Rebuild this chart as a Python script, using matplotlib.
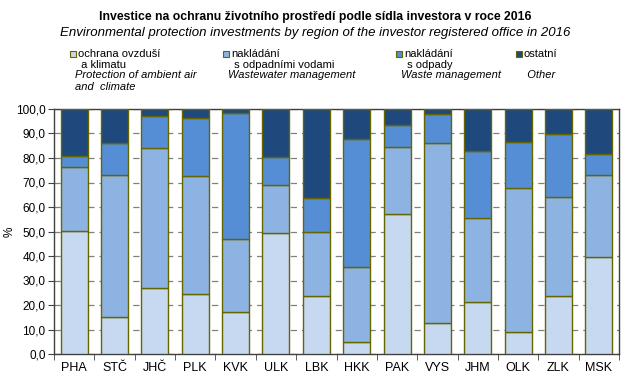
import numpy as np
import matplotlib
matplotlib.use("Agg")
import matplotlib.pyplot as plt
from matplotlib.patches import Rectangle
from matplotlib.ticker import FuncFormatter, FixedLocator

plt.rcParams['font.family'] = ['Liberation Sans', 'DejaVu Sans']

regions = ["PHA", "STČ", "JHČ", "PLK", "KVK", "ULK", "LBK",
           "HKK", "PAK", "VYS", "JHM", "OLK", "ZLK", "MSK"]
air = [50.1, 15.1, 26.9, 24.5, 17.1, 49.3, 23.6, 4.9, 57.1, 12.6, 21.2, 9.0, 23.6, 39.5]
water = [26.1, 57.9, 57.1, 48.1, 29.8, 19.6, 26.1, 30.8, 27.5, 73.4, 34.2, 58.7, 40.4, 33.5]
waste = [4.5, 13.0, 13.3, 23.6, 51.3, 11.4, 13.8, 51.9, 8.7, 11.8, 27.3, 18.7, 25.7, 8.5]
other = [19.3, 14.0, 2.7, 3.8, 1.8, 19.7, 36.5, 12.4, 6.7, 2.2, 17.3, 13.6, 10.3, 18.5]

series = [air, water, waste, other]
colors = ["#C6D9F0", "#8DB3E2", "#558ED5", "#1F497D"]
edge = "#666600"

fig = plt.figure(figsize=(6.3, 3.81), dpi=100)
ax = fig.add_axes([54 / 630, 27 / 381, 565 / 630, 245 / 381])

x = np.arange(len(regions))
bottom = np.zeros(len(regions))
for vals, c in zip(series, colors):
    ax.bar(x, vals, 0.67, bottom=bottom, color=c, edgecolor=edge, linewidth=1.0, zorder=3)
    bottom += np.array(vals)

ax.set_xlim(-0.5, len(regions) - 0.5)
ax.set_ylim(0, 100)
ax.set_yticks(np.arange(0, 101, 10))
ax.yaxis.set_major_formatter(FuncFormatter(lambda v, p: f"{v:.1f}".replace(".", ",")))
ax.yaxis.grid(True, linestyle=(0, (5, 4)), color="#808080", linewidth=0.9, zorder=0)
ax.set_xticks(x)
ax.set_xticklabels(regions)
ax.xaxis.set_minor_locator(FixedLocator(np.arange(-0.5, len(regions), 1)))
ax.tick_params(axis="x", which="major", length=0, pad=6, labelsize=9)
ax.tick_params(axis="x", which="minor", length=4, color="#404040", direction="out")
ax.tick_params(axis="y", length=4, color="#404040", labelsize=8.5, pad=2)
for s in ax.spines.values():
    s.set_color("#404040")
    s.set_linewidth(1.0)
ax.set_ylabel("%", fontsize=8.5)
ax.yaxis.set_label_coords(-38 / 565, 0.5)

fig.text(0.5, 1 - 17 / 381, "Investice na ochranu životního prostředí podle sídla investora v roce 2016",
         ha="center", va="center", fontsize=8.8, fontweight="bold")
fig.text(0.5, 1 - 33 / 381, "Environmental protection investments by region of the investor registered office in 2016",
         ha="center", va="center", fontsize=9.5, style="italic")

leg = [
    (70, ["ochrana ovzduší", " a klimatu"], ["Protection of ambient air", "and  climate"]),
    (223, ["nakládání", " s odpadními vodami"], ["Wastewater management"]),
    (396, ["nakládání", " s odpady"], ["Waste management"]),
    (516, ["ostatní"], ["  Other"]),
]
for (px, cz, en), c in zip(leg, colors):
    fig.patches.append(Rectangle((px / 630, 1 - 57 / 381), 6 / 630, 6 / 381,
                                 transform=fig.transFigure, facecolor=c,
                                 edgecolor=edge, linewidth=0.8))
    for i, t in enumerate(cz):
        fig.text((px + 8) / 630, 1 - (54 + 11 * i) / 381, t, ha="left", va="center", fontsize=8)
    for i, t in enumerate(en):
        fig.text((px + 5) / 630, 1 - (75 + 12 * i) / 381, t, ha="left", va="center",
                 fontsize=8, style="italic")

fig.savefig("out.png", dpi=100)
